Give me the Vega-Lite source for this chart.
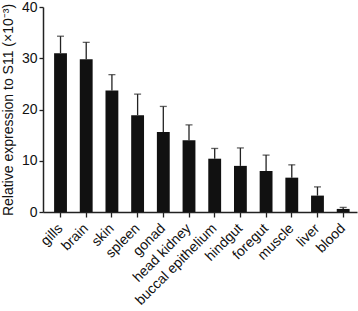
{
  "$schema": "https://vega.github.io/schema/vega-lite/v6.json",
  "width": 314,
  "height": 205,
  "autosize": {"type": "none"},
  "padding": {"left": 43, "top": 7, "right": 1, "bottom": 99},
  "data": {
    "values": [
      {"tissue": "gills", "mean": 31.0, "upper": 34.3},
      {"tissue": "brain", "mean": 29.8, "upper": 33.1},
      {"tissue": "skin", "mean": 23.7, "upper": 26.8},
      {"tissue": "spleen", "mean": 18.9, "upper": 23.0},
      {"tissue": "gonad", "mean": 15.6, "upper": 20.6},
      {"tissue": "head kidney", "mean": 14.0, "upper": 17.0},
      {"tissue": "buccal epithelium", "mean": 10.4, "upper": 12.4},
      {"tissue": "hindgut", "mean": 9.0, "upper": 12.5},
      {"tissue": "foregut", "mean": 8.0, "upper": 11.1},
      {"tissue": "muscle", "mean": 6.7, "upper": 9.2},
      {"tissue": "liver", "mean": 3.2, "upper": 4.9},
      {"tissue": "blood", "mean": 0.6, "upper": 0.9}
    ]
  },
  "encoding": {
    "x": {
      "field": "tissue",
      "type": "nominal",
      "sort": null,
      "scale": {"paddingInner": 0.5, "paddingOuter": 0.36, "align": 0.6},
      "axis": {
        "title": null,
        "labelAngle": -45,
        "labelAlign": "right",
        "labelBaseline": "middle",
        "labelFontSize": 14,
        "labelFont": "Liberation Sans",
        "labelColor": "#111",
        "domainColor": "#222",
        "domainWidth": 1.5,
        "tickColor": "#222",
        "tickWidth": 1.3,
        "tickSize": 5,
        "labelPadding": 9
      }
    }
  },
  "layer": [
    {
      "mark": {"type": "rule", "color": "#222", "strokeWidth": 1.3},
      "encoding": {
        "y": {"field": "mean", "type": "quantitative"},
        "y2": {"field": "upper"}
      }
    },
    {
      "mark": {"type": "tick", "color": "#222", "thickness": 1.3, "size": 7},
      "encoding": {"y": {"field": "upper", "type": "quantitative"}}
    },
    {
      "mark": {"type": "bar", "color": "#111"},
      "encoding": {
        "y": {
          "field": "mean",
          "type": "quantitative",
          "scale": {"domain": [0, 40], "nice": false},
          "axis": {
            "values": [0, 10, 20, 30, 40],
            "grid": false,
            "title": "Relative expression to S11 (×10⁻³)",
            "titleFont": "Liberation Sans",
            "titleFontSize": 14,
            "titleFontWeight": "normal",
            "titleColor": "#111",
            "titlePadding": 6,
            "labelFont": "Liberation Sans",
            "labelFontSize": 14,
            "labelColor": "#111",
            "labelPadding": 2,
            "domainColor": "#222",
            "domainWidth": 1.5,
            "tickColor": "#222",
            "tickWidth": 1.3,
            "tickSize": 4
          }
        }
      }
    }
  ],
  "config": {"view": {"stroke": null}}
}
